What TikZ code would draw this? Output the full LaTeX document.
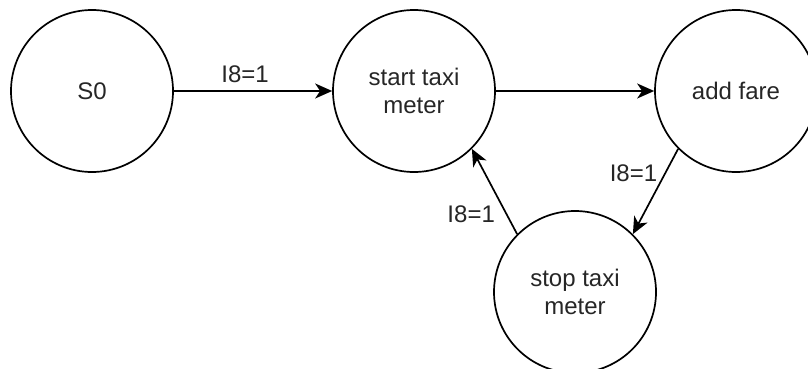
\documentclass[tikz,border=0pt]{standalone}
\usepackage{fontspec}
\setmainfont{Liberation Sans}
\usetikzlibrary{arrows.meta}
\definecolor{txt}{HTML}{262626}
\begin{document}
\begin{tikzpicture}[x=1pt,y=-1pt,
  state/.style={circle, draw, line width=1.7pt, minimum size=162pt, inner sep=0pt,
    align=center, text=txt, font=\fontsize{24}{28}\selectfont},
  arr/.style={line width=1.7pt, -{Stealth[length=17pt, width=15pt, inset=5pt]}},
  lbl/.style={font=\fontsize{24}{28}\selectfont, text=txt, fill=white, inner sep=1pt}]
  \useasboundingbox (0,0) rectangle (808,369);
  % states
  \node[state] (s0)    at (92,91)   {S0};
  \node[state] (start) at (414,91)  {start taxi\\meter};
  \node[state] (fare)  at (736,91)  {add fare};
  \node[state] (stop)  at (575,292) {stop taxi\\meter};
  % transitions
  \draw[arr] (s0) -- node[lbl, pos=0.45, above=6pt] {I8=1} (start);
  \draw[arr] (start) -- (fare);
  \draw[arr] (fare.225) -- node[lbl, pos=0.29, left=6pt] {I8=1} (stop.45);
  \draw[arr] (stop.135) -- node[lbl, pos=0.23, left=10pt] {I8=1} (start.315);
\end{tikzpicture}
\end{document}
